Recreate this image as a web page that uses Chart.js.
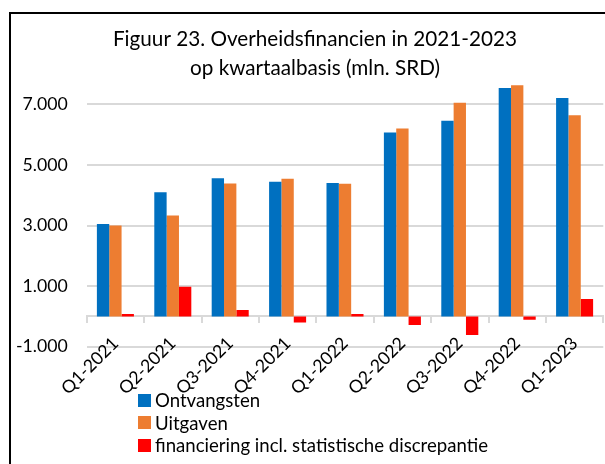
<!DOCTYPE html>
<html>
<head>
<meta charset="utf-8">
<title>Overheidsfinancien</title>
<script src="https://cdn.jsdelivr.net/npm/chart.js@4.4.0/dist/chart.umd.min.js"></script>
<style>
    html, body { margin: 0; padding: 0; background: #fff; width: 605px; height: 464px; overflow: hidden; }
    #frame { position: absolute; left: 9px; top: 12px; width: 640px; height: 480px; border: 2px solid #000; }
    #wrap { position: absolute; left: 0; top: 0; width: 630px; height: 464px; }
    #legend { position: absolute; left: 138px; top: 389px; font-family: Lato, sans-serif; font-size: 18.6px; color: #000; }
    #legend .row { display: flex; align-items: center; height: 22.5px; white-space: nowrap; }
    #legend .box { width: 13px; height: 13px; margin-right: 4px; }
</style>
</head>
<body>
<div id="frame"></div>
<div id="wrap">
    <canvas id="chart_fin" width="630" height="464"></canvas>
    <div id="legend"></div>
</div>
<script>
// data (mln. SRD)
var labels_quarters = ["Q1-2021", "Q2-2021", "Q3-2021", "Q4-2021", "Q1-2022", "Q2-2022", "Q3-2022", "Q4-2022", "Q1-2023"];
var data_ontvangsten = [3050, 4100, 4560, 4440, 4400, 6070, 6460, 7540, 7210];
var data_uitgaven = [3000, 3330, 4385, 4540, 4375, 6200, 7055, 7630, 6640];
var data_financiering = [80, 980, 210, -200, 80, -285, -615, -110, 575];
var ticks_y = [-1000, 1000, 3000, 5000, 7000];
var series_names = ["Ontvangsten", "Uitgaven", "financiering incl. statistische discrepantie"];
var series_colors = ["#0070C0", "#ED7D31", "#FF0000"];

var FontFamily = "Lato, 'Liberation Sans', sans-serif";

//format 1000 -> 1.000 (dutch thousands separator)
function FormatThousands(v) {
    var s = Math.abs(v).toString().replace(/\B(?=(\d{3})+(?!\d))/g, ".");
    return (v < 0 ? "-" : "") + s;
}

//legend stacked under the chart, one series per row
var htmlLegend = {
    id: "htmlLegend",
    afterUpdate: function (chart) {
        var box = document.getElementById("legend");
        box.innerHTML = "";
        chart.data.datasets.forEach(function (ds) {
            var row = document.createElement("div");
            row.className = "row";
            var sw = document.createElement("span");
            sw.className = "box";
            sw.style.background = ds.backgroundColor;
            var txt = document.createElement("span");
            txt.textContent = ds.label;
            row.appendChild(sw);
            row.appendChild(txt);
            box.appendChild(row);
        });
    }
};

function DrawChart() {
    var seriesData = [data_ontvangsten, data_uitgaven, data_financiering];
    new Chart(document.getElementById("chart_fin"), {
        type: "bar",
        data: {
            labels: labels_quarters,
            datasets: seriesData.map(function (d, i) {
                return {
                    label: series_names[i],
                    data: d,
                    backgroundColor: series_colors[i],
                    borderWidth: 0,
                    categoryPercentage: 0.645,
                    barPercentage: 1.0
                };
            })
        },
        options: {
            responsive: false,
            animation: false,
            devicePixelRatio: 1,
            layout: { padding: { top: 22, right: 0, bottom: 117.3, left: 0 } },
            plugins: {
                legend: { display: false },
                tooltip: { enabled: false },
                title: {
                    display: true,
                    text: ["Figuur 23. Overheidsfinancien in 2021-2023", "op kwartaalbasis (mln. SRD)"],
                    color: "#000",
                    font: { family: FontFamily, size: 20.7, weight: "normal", lineHeight: "28.5px" },
                    padding: { top: 3.25, bottom: -8.25 }
                }
            },
            scales: {
                x: {
                    position: { y: 0 },
                    grid: { drawOnChartArea: false, drawTicks: true, tickLength: 6, color: "#d9d9d9", lineWidth: 2, offset: true },
                    border: { display: true, color: "#d9d9d9", width: 2 },
                    ticks: {
                        minRotation: 45, maxRotation: 45, autoSkip: false, padding: 10.5,
                        color: "#000", font: { family: FontFamily, size: 17.7 }
                    }
                },
                y: {
                    min: -1000,
                    max: 8000,
                    afterBuildTicks: function (a) { a.ticks = ticks_y.map(function (v) { return { value: v }; }); },
                    grid: { color: "#d9d9d9", lineWidth: 2, drawTicks: false },
                    border: { display: false },
                    ticks: {
                        padding: 19, color: "#000", font: { family: FontFamily, size: 17.7 },
                        callback: function (v) { return FormatThousands(v); }
                    },
                    afterFit: function (s) { s.width = 86.7; }
                },
                // empty right axis: keeps the plot off the cut-off right edge, title stays centred on the full frame
                yRight: {
                    position: "right",
                    grid: { display: false },
                    border: { display: false },
                    ticks: { display: false },
                    afterFit: function (s) { s.width = 26.7; }
                }
            }
        },
        plugins: [htmlLegend]
    });
}

try { DrawChart(); } catch (e) { console.error(e); }
</script>
</body>
</html>
